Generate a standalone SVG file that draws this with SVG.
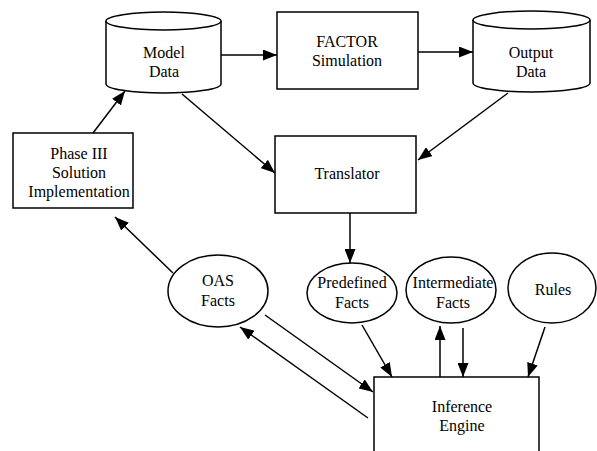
<svg xmlns="http://www.w3.org/2000/svg" width="597" height="451" viewBox="0 0 597 451">
<defs>
<style>
.s{fill:#fff;stroke:#000;stroke-width:1.5}
.t{font-size:16px;text-anchor:middle;fill:#000}
.c{fill:none;stroke:#000;stroke-width:1.5;marker-end:url(#a)}
</style>
<marker id="a" markerUnits="userSpaceOnUse" markerWidth="15" markerHeight="11" refX="14" refY="5.5" orient="auto">
<path d="M0,0 L14,5.5 L0,11 z" fill="#000"/>
</marker>
</defs>
<rect width="597" height="451" fill="#fff"/>
<g font-family="Liberation Serif, Times New Roman, serif">
<g id="model-data">
<path class="s" d="M106,21 V84 A57.5,9 0 0 0 221,84 V21"/>
<ellipse class="s" cx="163.5" cy="21" rx="57.5" ry="9"/>
<text class="t" x="164" y="58">Model</text>
<text class="t" x="164" y="77">Data</text>
</g>
<g id="factor">
<rect class="s" x="277" y="12" width="141" height="77"/>
<text class="t" x="347" y="47">FACTOR</text>
<text class="t" x="347" y="66">Simulation</text>
</g>
<g id="output-data">
<path class="s" d="M473,20 V83 A58.5,9 0 0 0 590,83 V20"/>
<ellipse class="s" cx="531.5" cy="20" rx="58.5" ry="9"/>
<text class="t" x="531" y="58">Output</text>
<text class="t" x="531" y="77">Data</text>
</g>
<g id="translator">
<rect class="s" x="275" y="136" width="141" height="77"/>
<text class="t" x="347" y="179">Translator</text>
</g>
<g id="phase3">
<rect class="s" x="13" y="133" width="120" height="75"/>
<text class="t" x="79" y="159">Phase III</text>
<text class="t" x="79" y="178">Solution</text>
<text class="t" x="79" y="197">Implementation</text>
</g>
<g id="oas-facts">
<ellipse class="s" cx="218" cy="291" rx="50" ry="36"/>
<text class="t" x="218" y="286">OAS</text>
<text class="t" x="218" y="306">Facts</text>
</g>
<g id="predefined-facts">
<ellipse class="s" cx="352" cy="293" rx="45" ry="30"/>
<text class="t" x="352" y="288">Predefined</text>
<text class="t" x="352" y="308">Facts</text>
</g>
<g id="intermediate-facts">
<ellipse class="s" cx="451" cy="290" rx="45" ry="33"/>
<text class="t" x="453" y="288">Intermediate</text>
<text class="t" x="453" y="308">Facts</text>
</g>
<g id="rules">
<ellipse class="s" cx="552" cy="288" rx="44" ry="35"/>
<text class="t" x="553" y="295">Rules</text>
</g>
<g id="inference-engine">
<rect class="s" x="374" y="377" width="165" height="90"/>
<text class="t" x="462" y="412">Inference</text>
<text class="t" x="462" y="431">Engine</text>
</g>
</g>
<g id="connectors">
<line class="c" x1="221" y1="55" x2="277" y2="55"/>
<line class="c" x1="418" y1="52" x2="473" y2="52"/>
<line class="c" x1="182" y1="94" x2="275" y2="173"/>
<line class="c" x1="508" y1="93" x2="418" y2="160"/>
<line class="c" x1="350" y1="213" x2="350" y2="263"/>
<line class="c" x1="93" y1="133" x2="125" y2="91"/>
<line class="c" x1="173" y1="273" x2="115" y2="217"/>
<line class="c" x1="368" y1="418" x2="240" y2="327"/>
<line class="c" x1="265" y1="315" x2="373" y2="392"/>
<line class="c" x1="362" y1="325" x2="392" y2="377"/>
<line class="c" x1="440" y1="377" x2="440" y2="326"/>
<line class="c" x1="463" y1="328" x2="463" y2="377"/>
<line class="c" x1="545" y1="327" x2="528" y2="377"/>
</g>
</svg>
